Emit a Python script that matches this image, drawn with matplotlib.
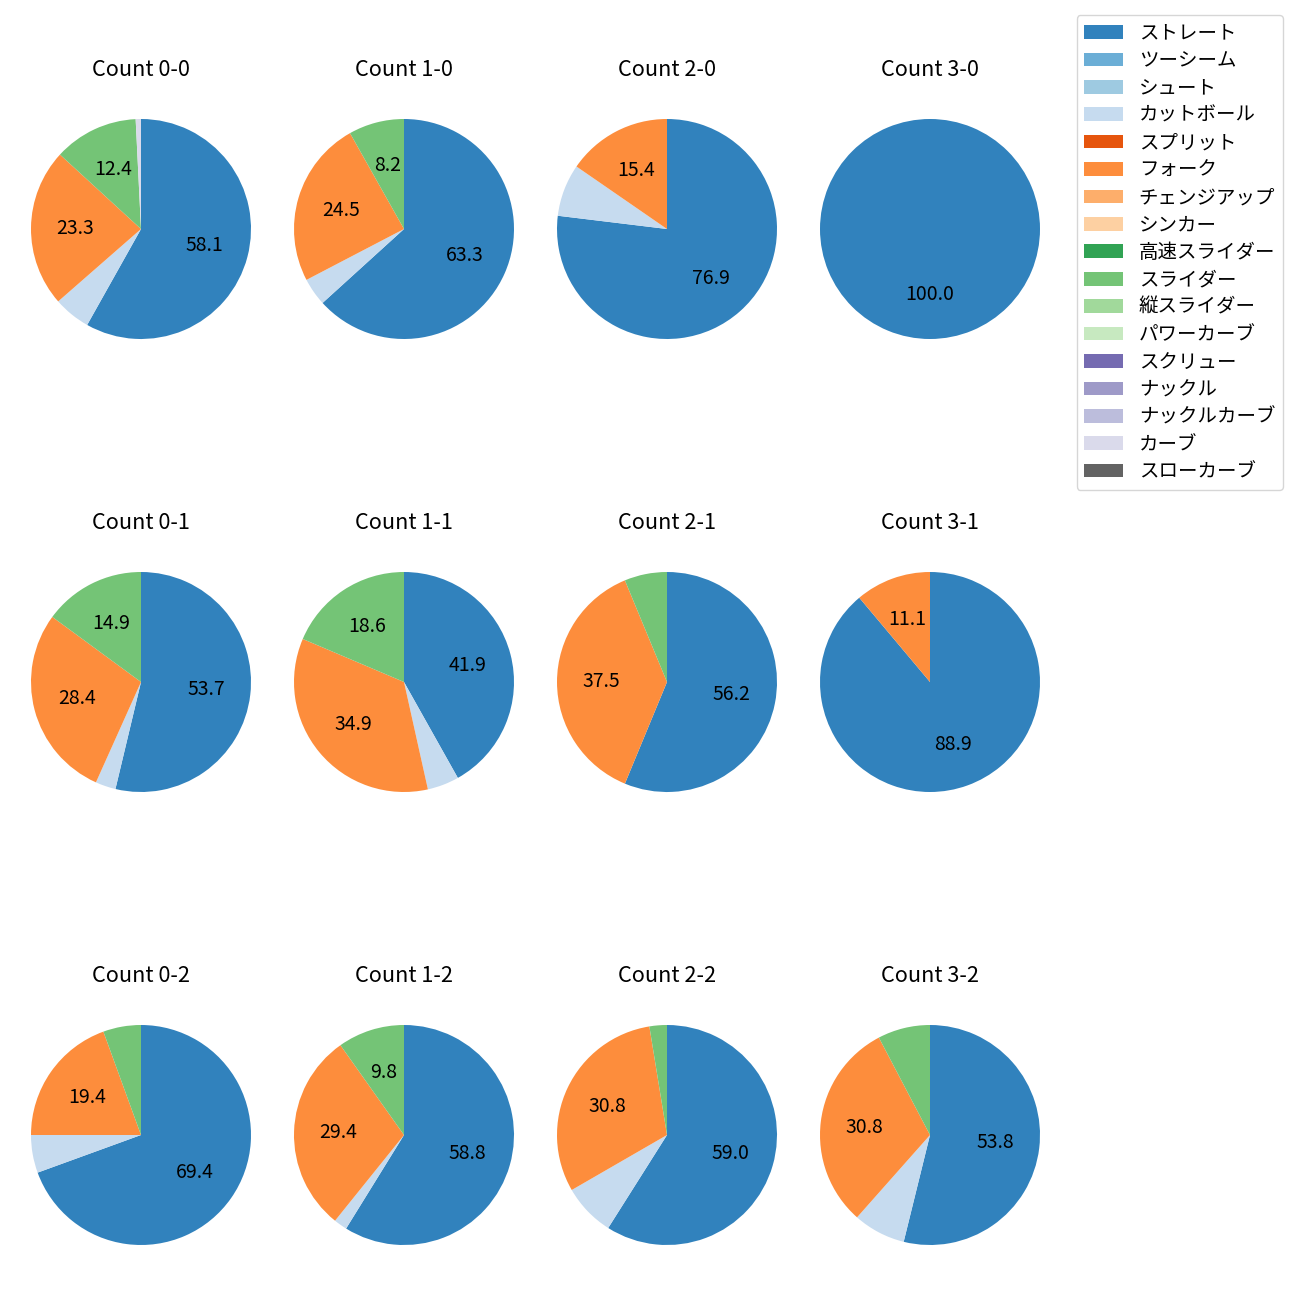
import matplotlib
matplotlib.use('Agg')
import matplotlib.pyplot as plt

plt.rcParams['font.family'] = ['Noto Sans CJK JP', 'DejaVu Sans']
plt.rcParams['font.size'] = 14

pitch_types = ['ストレート', 'ツーシーム', 'シュート', 'カットボール', 'スプリット', 'フォーク',
               'チェンジアップ', 'シンカー', '高速スライダー', 'スライダー', '縦スライダー',
               'パワーカーブ', 'スクリュー', 'ナックル', 'ナックルカーブ', 'カーブ', 'スローカーブ']

# pitch counts per ball-strike count, same order as pitch_types
c00 = [75, 0, 0, 7, 0, 30, 0, 0, 0, 16, 0, 0, 0, 0, 0, 1, 0]
c10 = [31, 0, 0, 2, 0, 12, 0, 0, 0, 4, 0, 0, 0, 0, 0, 0, 0]
c20 = [10, 0, 0, 1, 0, 2, 0, 0, 0, 0, 0, 0, 0, 0, 0, 0, 0]
c30 = [1, 0, 0, 0, 0, 0, 0, 0, 0, 0, 0, 0, 0, 0, 0, 0, 0]
c01 = [36, 0, 0, 2, 0, 19, 0, 0, 0, 10, 0, 0, 0, 0, 0, 0, 0]
c11 = [18, 0, 0, 2, 0, 15, 0, 0, 0, 8, 0, 0, 0, 0, 0, 0, 0]
c21 = [9, 0, 0, 0, 0, 6, 0, 0, 0, 1, 0, 0, 0, 0, 0, 0, 0]
c31 = [8, 0, 0, 0, 0, 1, 0, 0, 0, 0, 0, 0, 0, 0, 0, 0, 0]
c02 = [25, 0, 0, 2, 0, 7, 0, 0, 0, 2, 0, 0, 0, 0, 0, 0, 0]
c12 = [30, 0, 0, 1, 0, 15, 0, 0, 0, 5, 0, 0, 0, 0, 0, 0, 0]
c22 = [23, 0, 0, 3, 0, 12, 0, 0, 0, 1, 0, 0, 0, 0, 0, 0, 0]
c32 = [7, 0, 0, 1, 0, 4, 0, 0, 0, 1, 0, 0, 0, 0, 0, 0, 0]

grid = [[c00, c10, c20, c30],
        [c01, c11, c21, c31],
        [c02, c12, c22, c32]]
titles = [['Count 0-0', 'Count 1-0', 'Count 2-0', 'Count 3-0'],
          ['Count 0-1', 'Count 1-1', 'Count 2-1', 'Count 3-1'],
          ['Count 0-2', 'Count 1-2', 'Count 2-2', 'Count 3-2']]

colors = [plt.cm.tab20c(i) for i in range(17)]

fig = plt.figure(figsize=(13, 13), dpi=100)
size = 275 / 1300
handles = None
for r in range(3):
    for c in range(4):
        cx = (141 + 263 * c) / 1300
        cy = 1 - (229 + 453 * r) / 1300
        ax = fig.add_axes([cx - size / 2, cy - size / 2, size, size])
        wedges, _, _ = ax.pie(grid[r][c], colors=colors, startangle=90, counterclock=False,
                              autopct=lambda p: f'{p:.1f}' if p >= 8 else '')
        ax.set_title(titles[r][c], fontsize=15.6, pad=11)
        if handles is None:
            handles = wedges

fig.legend(handles, pitch_types, loc='upper right', labelspacing=0.33, borderaxespad=0,
           bbox_to_anchor=(1283 / 1300, 1 - 15 / 1300))

plt.savefig('out.png', dpi=100)
